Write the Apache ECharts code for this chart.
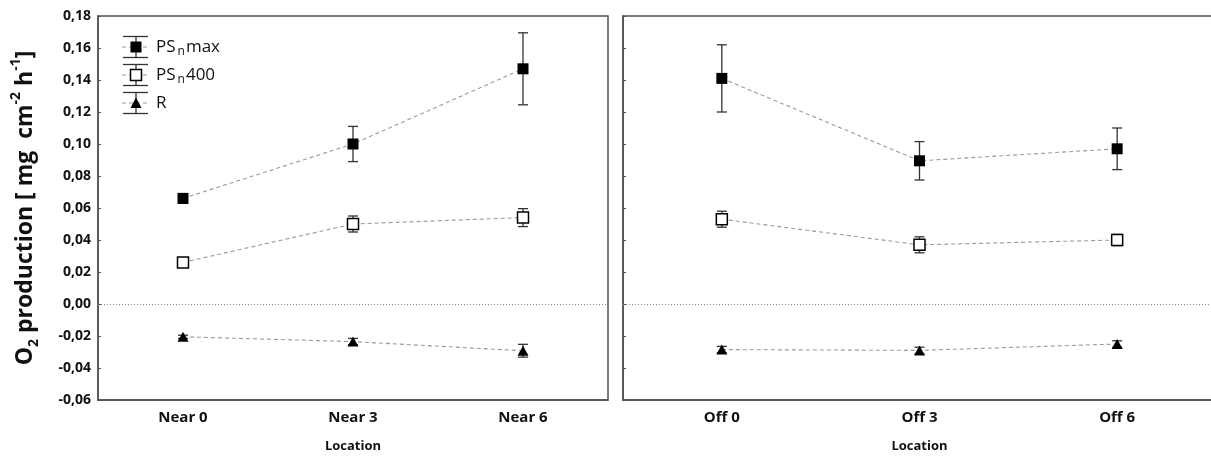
<!DOCTYPE html>
<html>
<head>
<meta charset="utf-8">
<title>O2 production by location</title>
<script src="https://cdn.jsdelivr.net/npm/echarts@6/dist/echarts.min.js"></script>
<style>
  html, body { margin: 0; padding: 0; background: #fff; }
  #chart { width: 1211px; height: 459px; }
</style>
</head>
<body>
<div id="chart"></div>
<script>
// Categories of the two panels
const nearLocations = ['Near 0', 'Near 3', 'Near 6'];
const offLocations = ['Off 0', 'Off 3', 'Off 6'];

// Means and standard errors, mg O2 cm-2 h-1
const psMaxNear = [0.066, 0.100, 0.147];
const psMaxNearErr = [0.003, 0.011, 0.0225];
const ps400Near = [0.026, 0.050, 0.054];
const ps400NearErr = [0.002, 0.005, 0.0056];
const rNear = [-0.0205, -0.0235, -0.0292];
const rNearErr = [0.001, 0.002, 0.004];

const psMaxOff = [0.141, 0.0895, 0.097];
const psMaxOffErr = [0.021, 0.012, 0.013];
const ps400Off = [0.053, 0.037, 0.040];
const ps400OffErr = [0.005, 0.005, 0.0035];
const rOff = [-0.0285, -0.029, -0.025];
const rOffErr = [0.002, 0.002, 0.002];

// Y axis range and step
const yMin = -0.06;
const yMax = 0.18;
const yStep = 0.02;

const FONT = '"Open Sans", "Liberation Sans", sans-serif';
const AXIS_COLOR = '#505050';
const DASH_COLOR = '#9a9a9a';
const BAR_COLOR = '#333';

const chart = echarts.init(document.getElementById('chart'), null, { renderer: 'canvas' });

// Mean ± error vertical bars with caps
function errorBarRenderer(params, api) {
  const x = api.value(0);
  const m = api.value(1);
  const e = api.value(2);
  const top = api.coord([x, m + e]);
  const bot = api.coord([x, m - e]);
  const half = 5;
  const style = { stroke: BAR_COLOR, lineWidth: 1.3 };
  return {
    type: 'group',
    children: [
      { type: 'line', shape: { x1: top[0], y1: top[1], x2: bot[0], y2: bot[1] }, style },
      { type: 'line', shape: { x1: top[0] - half, y1: top[1], x2: top[0] + half, y2: top[1] }, style },
      { type: 'line', shape: { x1: bot[0] - half, y1: bot[1], x2: bot[0] + half, y2: bot[1] }, style }
    ]
  };
}

function errorData(means, errs) {
  return means.map((m, i) => [i, m, errs[i]]);
}

const seriesDefs = [
  { key: 'max', symbol: 'rect', fill: '#000' },
  { key: '400', symbol: 'rect', fill: '#fff' },
  { key: 'R', symbol: 'triangle', fill: '#000' }
];

function panelSeries(panelIndex, groups) {
  const out = [];
  groups.forEach((g, k) => {
    const def = seriesDefs[k];
    out.push({
      type: 'custom',
      xAxisIndex: panelIndex,
      yAxisIndex: panelIndex,
      renderItem: errorBarRenderer,
      encode: { x: 0, y: 1 },
      data: errorData(g.mean, g.err),
      z: 2,
      silent: true
    });
    const s = {
      type: 'line',
      xAxisIndex: panelIndex,
      yAxisIndex: panelIndex,
      data: g.mean,
      symbol: def.symbol,
      symbolSize: def.symbol === 'triangle' ? [11, 10] : 11,
      showSymbol: true,
      lineStyle: { color: DASH_COLOR, width: 1.1, type: [4, 3] },
      itemStyle: { color: def.fill, borderColor: '#000', borderWidth: def.fill === '#fff' ? 1.5 : 0 },
      z: 3,
      silent: true,
      animation: false
    };
    if (k === 0) {
      s.markLine = {
        silent: true,
        symbol: 'none',
        label: { show: false },
        lineStyle: { color: '#888', type: [1, 2], width: 1 },
        data: [{ yAxis: 0 }],
        animation: false
      };
    }
    out.push(s);
  });
  return out;
}

function xAxisDef(gridIndex, cats) {
  return {
    type: 'category',
    gridIndex,
    data: cats,
    boundaryGap: true,
    name: 'Location',
    nameLocation: 'middle',
    nameGap: 40,
    nameTextStyle: { fontFamily: FONT, fontWeight: 'bold', fontSize: 13, color: '#111' },
    axisLine: { onZero: false, lineStyle: { color: AXIS_COLOR, width: 1.5 } },
    axisTick: { inside: true, alignWithLabel: true, length: 3, lineStyle: { color: AXIS_COLOR } },
    axisLabel: { fontFamily: FONT, fontWeight: 'bold', fontSize: 15, color: '#111', margin: 10 },
    splitLine: { show: false }
  };
}

function yAxisDef(gridIndex, showLabels) {
  const a = {
    type: 'value',
    gridIndex,
    min: yMin,
    max: yMax,
    interval: yStep,
    axisLine: { show: true, onZero: false, lineStyle: { color: AXIS_COLOR, width: 1.5 } },
    axisTick: { show: true, inside: true, length: 3, lineStyle: { color: AXIS_COLOR } },
    axisLabel: {
      show: showLabels,
      fontFamily: FONT,
      fontWeight: 'bold',
      fontSize: 14,
      color: '#111',
      margin: 7,
      formatter: v => v.toFixed(2).replace('.', ',')
    },
    splitLine: { show: false }
  };
  if (showLabels) {
    a.name = '{b|O}{s|2}{b| production [ mg  cm}{p|-2}{b| h}{p|-1}{b|]}';
    a.nameLocation = 'middle';
    a.nameGap = 57;
    a.nameTextStyle = {
      fontFamily: FONT,
      fontWeight: 'bold',
      color: '#111',
      rich: {
        b: { fontFamily: FONT, fontWeight: 'bold', fontSize: 23, color: '#111', lineHeight: 32, verticalAlign: 'middle' },
        s: { fontFamily: FONT, fontWeight: 'bold', fontSize: 14, color: '#111', lineHeight: 15, verticalAlign: 'bottom' },
        p: { fontFamily: FONT, fontWeight: 'bold', fontSize: 14, color: '#111', lineHeight: 15, verticalAlign: 'top' }
      }
    };
  }
  return a;
}

// Legend drawn as error-bar glyphs beside the series names
const legendNames = [
  '{t|PS}{s|n}{t|max}',
  '{t|PS}{s|n}{t|400}',
  '{t|R}'
];
const legendGraphics = [];
legendNames.forEach((txt, k) => {
  const cy = 47 + k * 28;
  const def = seriesDefs[k];
  const cx = 136;
  legendGraphics.push(
    { type: 'line', shape: { x1: 122, y1: cy, x2: 149, y2: cy }, style: { stroke: DASH_COLOR, lineWidth: 1.1, lineDash: [4, 3] } },
    { type: 'line', shape: { x1: cx, y1: cy - 10.5, x2: cx, y2: cy + 10.5 }, style: { stroke: BAR_COLOR, lineWidth: 1.3 } },
    { type: 'line', shape: { x1: 123, y1: cy - 10.5, x2: 148, y2: cy - 10.5 }, style: { stroke: BAR_COLOR, lineWidth: 1.3 } },
    { type: 'line', shape: { x1: 123, y1: cy + 10.5, x2: 148, y2: cy + 10.5 }, style: { stroke: BAR_COLOR, lineWidth: 1.3 } }
  );
  if (def.symbol === 'rect') {
    legendGraphics.push({
      type: 'rect', shape: { x: cx - 5.5, y: cy - 5.5, width: 11, height: 11 },
      style: { fill: def.fill, stroke: '#000', lineWidth: def.fill === '#fff' ? 1.5 : 0 }
    });
  } else {
    legendGraphics.push({
      type: 'polygon', shape: { points: [[cx, cy - 5.5], [cx + 5.5, cy + 5], [cx - 5.5, cy + 5]] },
      style: { fill: '#000' }
    });
  }
  legendGraphics.push({
    type: 'text', x: 156, y: cy, style: {
      text: txt, verticalAlign: 'middle', fill: '#111',
      rich: {
        t: { fontFamily: FONT, fontSize: 17, color: '#111', lineHeight: 22, verticalAlign: 'middle' },
        s: { fontFamily: FONT, fontSize: 12, color: '#111', lineHeight: 12, verticalAlign: 'bottom', padding: [0, 1, 0, 2] }
      }
    }
  });
});

const option = {
  backgroundColor: '#fff',
  animation: false,
  grid: [
    { left: 98, top: 16, width: 510, height: 384, outerBoundsMode: 'none', show: true, borderColor: AXIS_COLOR, borderWidth: 1.5, backgroundColor: 'transparent' },
    { left: 623, top: 16, width: 593, height: 384, outerBoundsMode: 'none', show: true, borderColor: AXIS_COLOR, borderWidth: 1.5, backgroundColor: 'transparent' }
  ],
  xAxis: [xAxisDef(0, nearLocations), xAxisDef(1, offLocations)],
  yAxis: [yAxisDef(0, true), yAxisDef(1, false)],
  series: [
    ...panelSeries(0, [
      { mean: psMaxNear, err: psMaxNearErr },
      { mean: ps400Near, err: ps400NearErr },
      { mean: rNear, err: rNearErr }
    ]),
    ...panelSeries(1, [
      { mean: psMaxOff, err: psMaxOffErr },
      { mean: ps400Off, err: ps400OffErr },
      { mean: rOff, err: rOffErr }
    ])
  ],
  graphic: legendGraphics
};

chart.setOption(option);
</script>
</body>
</html>
